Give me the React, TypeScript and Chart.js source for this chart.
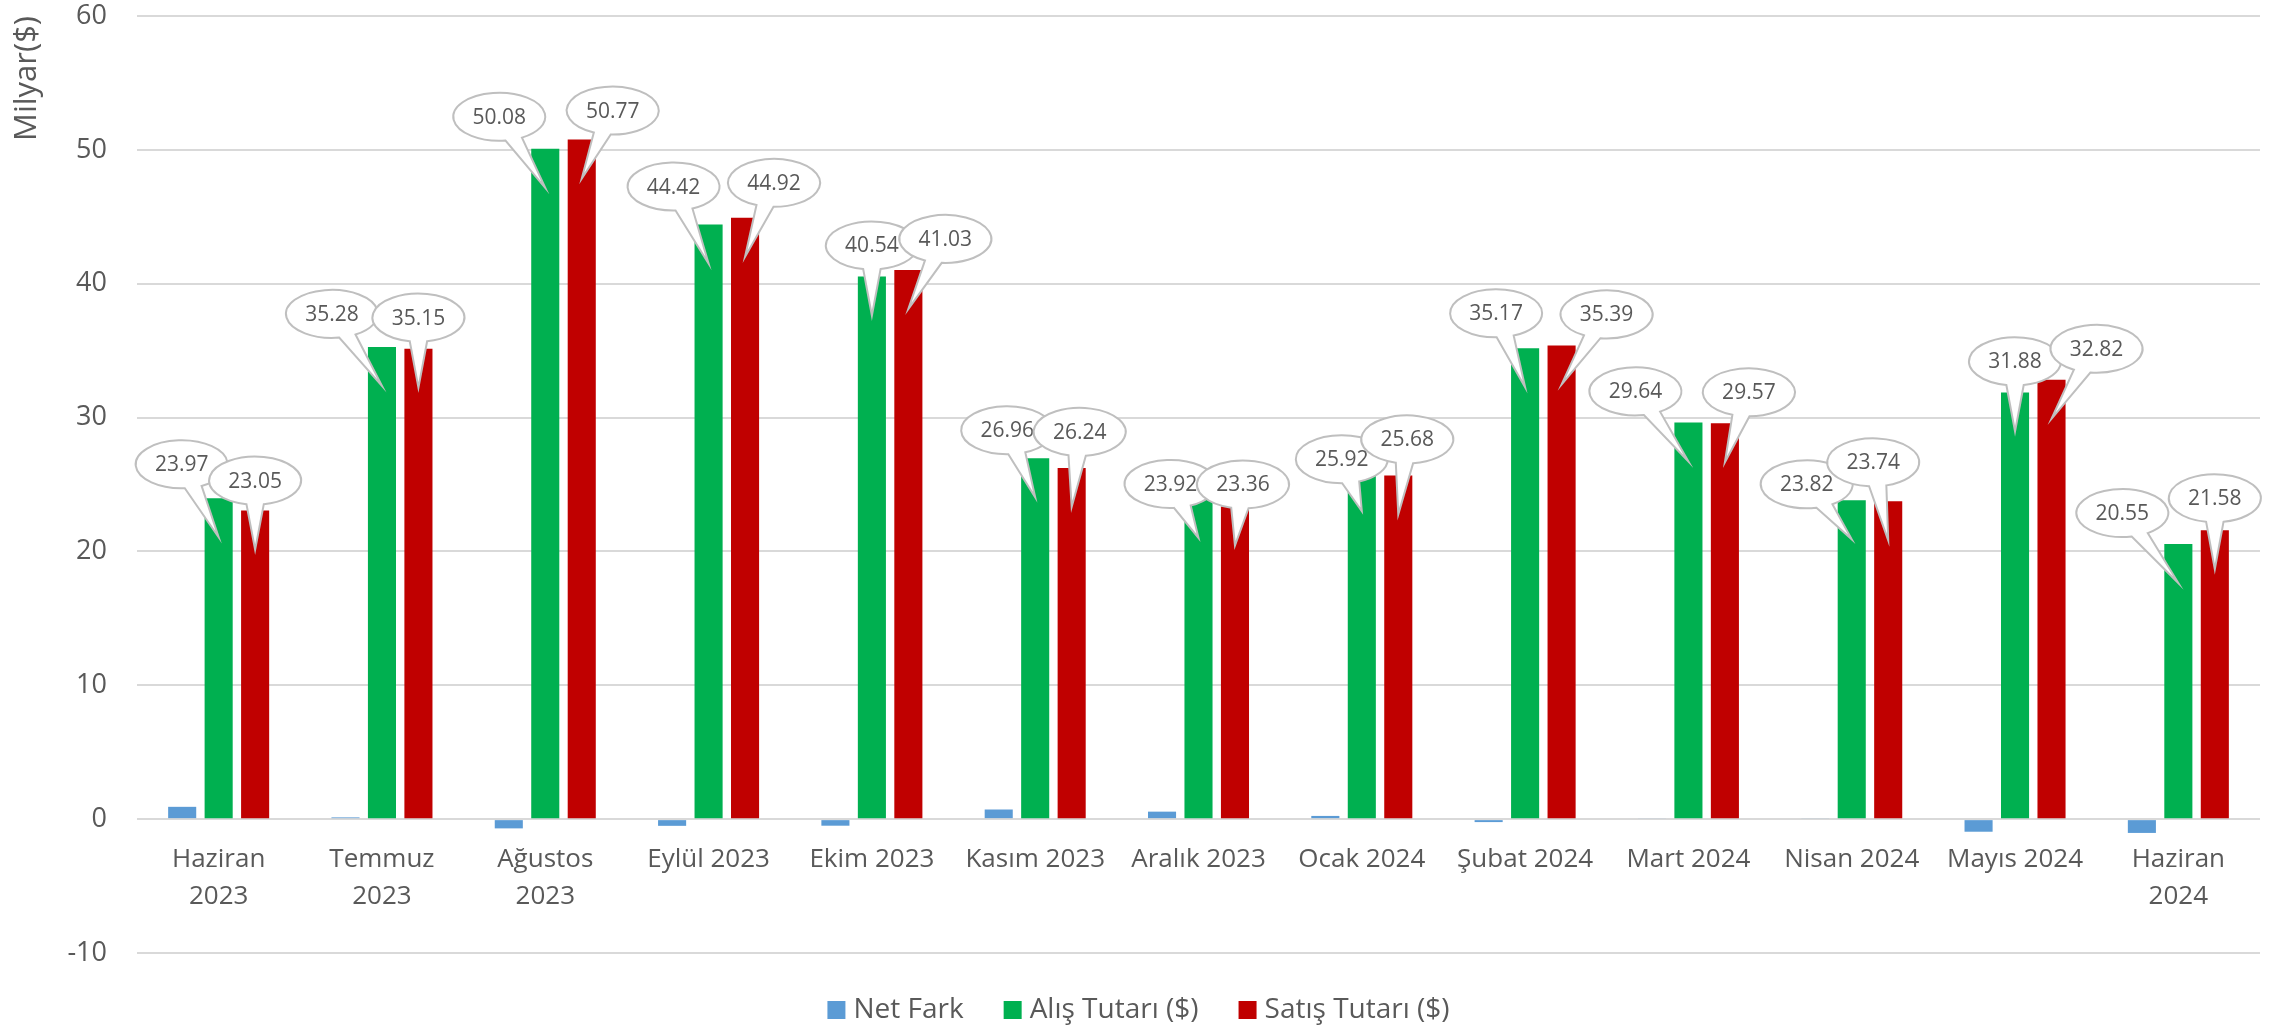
import React, { useEffect, useRef } from "react";
import { Chart, registerables } from "chart.js";

Chart.register(...registerables);

// ---------- data ----------
const categories: (string | string[])[] = [
  ["Haziran", "2023"],
  ["Temmuz", "2023"],
  ["Ağustos", "2023"],
  "Eylül 2023",
  "Ekim 2023",
  "Kasım 2023",
  "Aralık 2023",
  "Ocak 2024",
  "Şubat 2024",
  "Mart 2024",
  "Nisan 2024",
  "Mayıs 2024",
  ["Haziran", "2024"],
];
const seriesNames = ["Net Fark", "Alış Tutarı ($)", "Satış Tutarı ($)"];
const netFark = [0.92, 0.13, -0.69, -0.5, -0.49, 0.72, 0.56, 0.24, -0.22, 0.07, 0.08, -0.94, -1.03];
const alisTutari = [23.97, 35.28, 50.08, 44.42, 40.54, 26.96, 23.92, 25.92, 35.17, 29.64, 23.82, 31.88, 20.55];
const satisTutari = [23.05, 35.15, 50.77, 44.92, 41.03, 26.24, 23.36, 25.68, 35.39, 29.57, 23.74, 32.82, 21.58];
const yTickValues = [-10, 0, 10, 20, 30, 40, 50, 60];
const yTitle = "Milyar($)";

// ---------- styling / layout ----------
const COLORS = ["#5B9BD5", "#00B050", "#C00000"];
const TEXT = "#595959";
const FONT = '"Open Sans", sans-serif';
// callout bubble offsets (px) relative to the bar top centre
const alisCalloutOffsets: [number, number][] = [
  [-37, -34], [-50, -33], [-46, -32], [-35, -38], [0, -31], [-28, -28], [-28, -15],
  [-20, -13], [-29, -35], [-53, -31], [-45, -16], [0, -31], [-56, -31],
];
const satisCalloutOffsets: [number, number][] = [
  [0, -30], [0, -31], [31, -29], [29, -35], [37, -31], [8, -36], [8, -22],
  [9, -36], [45, -31], [24, -31], [-15, -39], [45, -31], [0, -32],
];

const calloutPlugin = {
  id: "callouts",
  afterDatasetsDraw(chart: any) {
    const ctx: CanvasRenderingContext2D = chart.ctx;
    const rx = 46, ry = 24, delta = 0.19, tipDepth = 39;
    [1, 2].forEach((di) => {
      const meta = chart.getDatasetMeta(di);
      const offs = di === 1 ? alisCalloutOffsets : satisCalloutOffsets;
      meta.data.forEach((el: any, i: number) => {
        const x = el.x, y = el.y;
        const v = chart.data.datasets[di].data[i] as number;
        const cx = x + offs[i][0];
        const cy = y + offs[i][1];
        const tx = x, ty = y + tipDepth;
        const phi = Math.atan2((ty - cy) / ry, (tx - cx) / rx);
        ctx.save();
        ctx.beginPath();
        ctx.ellipse(cx, cy, rx, ry, 0, phi + delta, phi - delta + Math.PI * 2, false);
        ctx.lineTo(tx, ty);
        ctx.closePath();
        ctx.fillStyle = "#ffffff";
        ctx.fill();
        ctx.strokeStyle = "#bfbfbf";
        ctx.lineWidth = 2;
        ctx.lineJoin = "miter";
        ctx.stroke();
        ctx.fillStyle = TEXT;
        ctx.font = `21px ${FONT}`;
        ctx.textAlign = "center";
        ctx.textBaseline = "middle";
        ctx.fillText(v.toFixed(2), cx, cy + 1);
        ctx.restore();
      });
    });
  },
};

const legendPlugin = {
  id: "customLegend",
  afterDraw(chart: any) {
    const ctx: CanvasRenderingContext2D = chart.ctx;
    const box = 18, gapBox = 8, gapItem = 40;
    const centerX = chart.width / 2, centerY = 1010;
    ctx.save();
    ctx.font = `28px ${FONT}`;
    const names = chart.data.datasets.map((d: any) => d.label as string);
    const widths = names.map((n: string) => ctx.measureText(n).width);
    const total =
      widths.reduce((a: number, w: number) => a + box + gapBox + w, 0) + gapItem * (names.length - 1);
    let x = centerX - total / 2;
    names.forEach((n: string, i: number) => {
      ctx.fillStyle = chart.data.datasets[i].backgroundColor;
      ctx.fillRect(x, centerY - box / 2, box, box);
      x += box + gapBox;
      ctx.fillStyle = TEXT;
      ctx.textAlign = "left";
      ctx.textBaseline = "middle";
      ctx.fillText(n, x, centerY);
      x += widths[i] + gapItem;
    });
    ctx.restore();
  },
};

export default function App() {
  const canvasRef = useRef<HTMLCanvasElement | null>(null);

  useEffect(() => {
    document.body.style.margin = "0";
    const canvas = canvasRef.current;
    if (!canvas) return;
    Chart.defaults.font.family = FONT;
    const seriesData = [netFark, alisTutari, satisTutari];
    const chart = new Chart(canvas, {
      type: "bar",
      data: {
        labels: categories,
        datasets: seriesNames.map((name, i) => ({
          label: name,
          data: seriesData[i],
          backgroundColor: COLORS[i],
          borderWidth: 0,
          barPercentage: 0.77,
          categoryPercentage: 0.67,
        })),
      },
      options: {
        animation: false,
        responsive: false,
        devicePixelRatio: 1,
        layout: { padding: { top: 16, right: 17, bottom: 80, left: 0 } },
        plugins: { legend: { display: false }, tooltip: { enabled: false } },
        scales: {
          x: {
            position: { y: 0 } as any,
            grid: { display: false, drawTicks: false },
            border: { display: false },
            ticks: {
              color: TEXT,
              font: { family: FONT, size: 26, lineHeight: 1.46 },
              padding: 21,
              maxRotation: 0,
              autoSkip: false,
            },
          },
          y: {
            min: yTickValues[0],
            max: yTickValues[yTickValues.length - 1],
            afterBuildTicks: (scale: any) => {
              scale.ticks = yTickValues.map((v) => ({ value: v }));
            },
            afterFit: (scale: any) => {
              scale.width = 137;
              scale.paddingTop = 0;
              scale.paddingBottom = 0;
            },
            ticks: {
              stepSize: 10,
              color: TEXT,
              font: { family: FONT, size: 27 },
              padding: 30,
            },
            grid: { color: "#d9d9d9", lineWidth: 2, drawTicks: false },
            border: { display: false },
            title: {
              display: true,
              text: yTitle,
              align: "end",
              color: TEXT,
              font: { family: FONT, size: 31 },
              padding: { top: 9, bottom: 0 },
            },
          },
        },
      },
      plugins: [calloutPlugin, legendPlugin],
    } as any);
    return () => chart.destroy();
  }, []);

  return (
    <div style={{ position: "fixed", left: 0, top: 0, width: 2277, height: 1033, background: "#fff" }}>
      <canvas ref={canvasRef} width={2277} height={1033} style={{ width: 2277, height: 1033 }} />
    </div>
  );
}
